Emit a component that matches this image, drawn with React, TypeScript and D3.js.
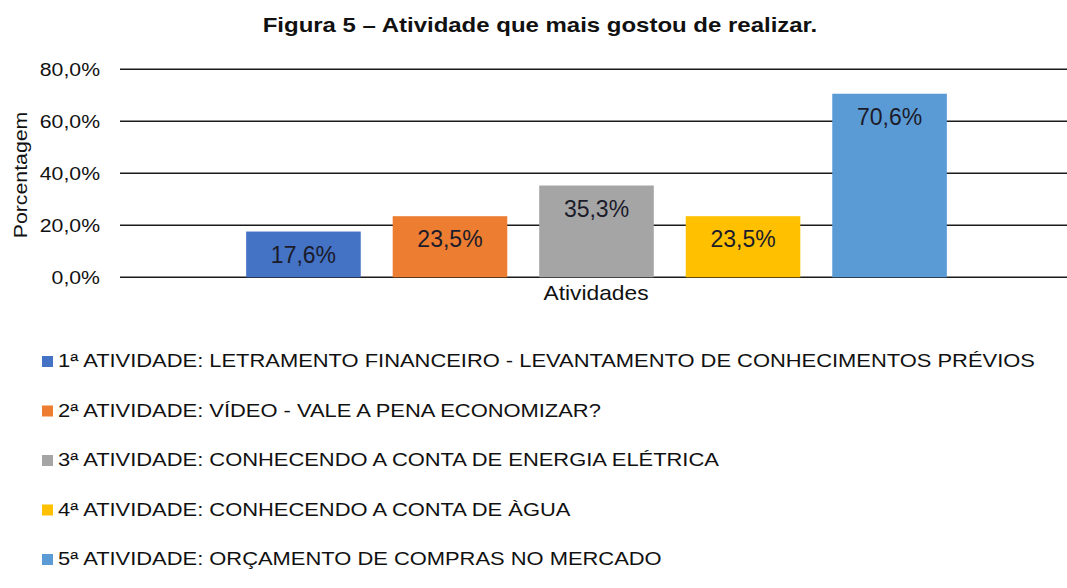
import React from "react";
import * as d3 from "d3";

const categories = [
  "1ª ATIVIDADE: LETRAMENTO FINANCEIRO - LEVANTAMENTO DE CONHECIMENTOS PRÉVIOS",
  "2ª ATIVIDADE: VÍDEO - VALE A PENA ECONOMIZAR?",
  "3ª ATIVIDADE: CONHECENDO A CONTA DE ENERGIA ELÉTRICA",
  "4ª ATIVIDADE: CONHECENDO A CONTA DE ÀGUA",
  "5ª ATIVIDADE: ORÇAMENTO DE COMPRAS NO MERCADO",
];
const values = [17.6, 23.5, 35.3, 23.5, 70.6];
const colors = ["#4472C4", "#ED7D31", "#A5A5A5", "#FFC000", "#5B9BD5"];
const yTicks = [0, 20, 40, 60, 80];

const W = 1067;
const H = 588;
const FONT = "'Liberation Sans', Arial, sans-serif";

export default function App() {
  const x = d3
    .scaleBand<string>()
    .domain(categories)
    .range([120, 1073])
    .paddingInner(0.218)
    .paddingOuter(0.861);
  const y = d3.scaleLinear().domain([0, 80]).range([277.3, 69.3]);
  const fmt = (v: number) => v.toFixed(1).replace(".", ",") + "%";
  const sx = 1.18;

  return (
    <svg
      width={W}
      height={H}
      style={{ position: "absolute", left: 0, top: 0, background: "#fff" }}
      fontFamily={FONT}
    >
      <rect x={0} y={0} width={W} height={H} fill="#fff" />
      <text
        transform={`translate(540,32) scale(1.17,1)`}
        textAnchor="middle"
        fontWeight="bold"
        fontSize={20.5}
        fill="#111"
      >
        Figura 5 – Atividade que mais gostou de realizar.
      </text>

      {yTicks.map((t) => (
        <g key={t}>
          <line x1={120} x2={W} y1={y(t)} y2={y(t)} stroke="#1a1a1a" strokeWidth={1.4} />
          <text
            transform={`translate(100,${y(t) + 6.5}) scale(${sx},1)`}
            textAnchor="end"
            fontSize={18}
            fill="#111"
          >
            {fmt(t)}
          </text>
        </g>
      ))}

      <text
        transform={`translate(27,175) rotate(-90) scale(1.12,1)`}
        textAnchor="middle"
        fontSize={19}
        fill="#111"
      >
        Porcentagem
      </text>

      {categories.map((c, i) => (
        <g key={c}>
          <rect
            x={x(c)!}
            y={y(values[i])}
            width={x.bandwidth()}
            height={y(0) - y(values[i])}
            fill={colors[i]}
          />
          <text
            transform={`translate(${x(c)! + x.bandwidth() / 2},${y(values[i]) + 31})`}
            textAnchor="middle"
            fontSize={23}
            fill="#1b1b2a"
          >
            {fmt(values[i])}
          </text>
        </g>
      ))}

      <text
        transform={`translate(596,300) scale(1.14,1)`}
        textAnchor="middle"
        fontSize={20}
        fill="#111"
      >
        Atividades
      </text>

      {categories.map((c, i) => {
        const yy = 367 + i * 49.5;
        return (
          <g key={"l" + i}>
            <rect x={42} y={yy - 11} width={11} height={11} fill={colors[i]} />
            <text
              transform={`translate(58,${yy}) scale(1.185,1)`}
              fontSize={18.5}
              fill="#111"
            >
              {c}
            </text>
          </g>
        );
      })}
    </svg>
  );
}
